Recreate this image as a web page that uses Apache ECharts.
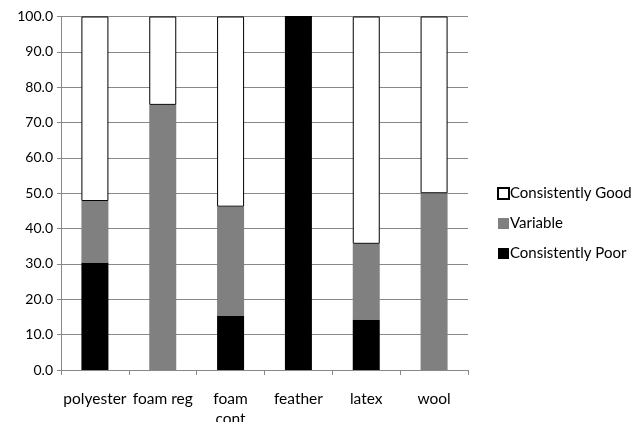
<!DOCTYPE html>
<html><head><meta charset="utf-8">
<script src="https://cdn.jsdelivr.net/npm/echarts@6/dist/echarts.min.js"></script>
<style>html,body{margin:0;padding:0;background:#fff;}#c{width:633px;height:422px;}</style>
</head><body><div id="c"></div>
<script>
const categories = ['polyester', 'foam reg', 'foam\ncont', 'feather', 'latex', 'wool'];
const poor = [30.4, 0, 15.4, 100, 14.3, 0];
const variable = [17.4, 75, 30.8, 0, 21.4, 50];
const good = [52.2, 25, 53.8, 0, 64.3, 50];
const yTicks = {min: 0, max: 100, interval: 10};

const font = 'Lato, "Open Sans", sans-serif';
const chart = echarts.init(document.getElementById('c'));
chart.setOption({
  animation: false,
  backgroundColor: '#fff',
  grid: {left: 61, right: 165, top: 16.5, bottom: 52, containLabel: false, outerBoundsMode: 'none'},
  legend: {
    orient: 'vertical', left: 492, top: 181, itemGap: 15,
    itemWidth: 11, itemHeight: 11, icon: 'rect',
    textStyle: {fontFamily: font, fontSize: 15, color: '#000', padding: [0, 0, 0, -4]},
    data: ['Consistently Good', 'Variable', 'Consistently Poor']
  },
  xAxis: {
    type: 'category', data: categories,
    axisLine: {lineStyle: {color: '#888'}},
    axisTick: {show: true, length: 5, lineStyle: {color: '#888'}},
    axisLabel: {fontFamily: font, fontSize: 15.5, color: '#000', margin: 19, lineHeight: 20, interval: 0}
  },
  yAxis: {
    type: 'value', min: yTicks.min, max: yTicks.max, interval: yTicks.interval,
    axisLine: {show: true, lineStyle: {color: '#888'}},
    axisTick: {show: true, length: 4, lineStyle: {color: '#888'}},
    splitLine: {lineStyle: {color: '#888'}},
    axisLabel: {fontFamily: font, fontSize: 14, color: '#000', margin: 8, formatter: v => v.toFixed(1)}
  },
  series: [
    {name: 'Consistently Poor', type: 'bar', stack: 's', data: poor, barWidth: 27, itemStyle: {color: '#000'}},
    {name: 'Variable', type: 'bar', stack: 's', data: variable, barWidth: 27, itemStyle: {color: '#808080'}},
    {name: 'Consistently Good', type: 'bar', stack: 's', data: good, barWidth: 27, itemStyle: {color: '#fff', borderColor: '#000', borderWidth: 1}}
  ]
});
</script></body></html>
